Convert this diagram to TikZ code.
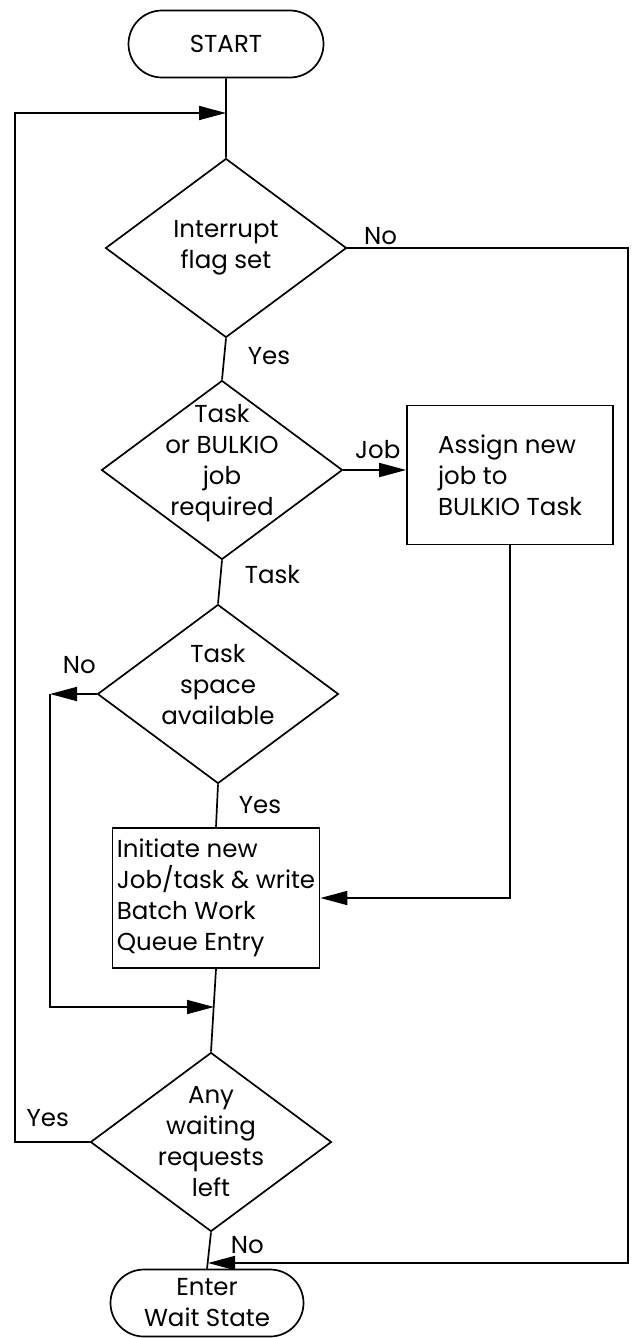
\documentclass[tikz,border=0pt]{standalone}
\usepackage{fontspec}
\setmainfont{Poppins}
\usetikzlibrary{shapes.geometric,shapes.misc,arrows.meta}

\tikzset{
	terminal/.style={rounded rectangle, draw, align=center, minimum width=195pt, minimum height=67pt, inner sep=0pt},
	decision/.style={diamond, draw, minimum width=241pt, minimum height=179pt, inner sep=0pt},
	process/.style={rectangle, draw, align=left, minimum width=206pt, minimum height=139pt, inner sep=0pt},
	dtext/.style={align=center, inner sep=0pt},
	lbl/.style={inner sep=0pt},
}

\begin{document}
\begin{tikzpicture}[x=1pt, y=-1pt, line width=1.7pt, >={Triangle[length=27pt,width=14pt]},
		every node/.append style={font=\fontsize{24.5}{31}\selectfont}]
		\useasboundingbox (0,0) rectangle (634,1338);

		\node[terminal] (start) at (226, 44) {START};
		\node[decision] (d1) at (226, 248) {};
		\node[decision] (d2) at (222, 470) {};
		\node[decision] (d3) at (218, 694) {};
		\node[decision] (d4) at (211, 1142) {};
		\node[process] (assign) at (510, 475) {Assign new\\job to\\BULKIO Task};
		\node[process, minimum width=207pt, minimum height=140pt] (init) at (216, 898) {Initiate new\\Job/task \& write\\Batch Work\\Queue Entry};
		\node[terminal, minimum width=193pt] (enter) at (207, 1303) {Enter\\Wait State};

		% text of the decisions
		\node[dtext] (d1t) at (d1) {Interrupt\\flag set};
		\node[dtext, yshift=7pt] (d2t) at (d2) {Task\\or BULKIO\\job\\required};
		\node[dtext, yshift=9pt] (d3t) at (d3) {Task\\space\\available};
		\node[dtext] (d4t) at (d4) {Any\\waiting\\requests\\left};

		% corners of the loops
		\coordinate (lin) at (226, 113);
		\coordinate (lyes) at (15, 1142);
		\coordinate (rno) at (628, 248);
		\coordinate (bin) at (208, 1263);
		\coordinate (lno) at (50, 694);
		\coordinate (jn) at (214, 1007);

		\draw (start) -- (d1);
		\draw [->] (d1.east) node[lbl, anchor=base west, xshift=16pt, yshift=4pt] (no1) {No} -- (rno) |- (bin);
		\draw (d1.south) node[lbl, anchor=base west, xshift=21pt, yshift=-26pt] (yes1) {Yes} -- (d2.north);
		\draw [->] (d2.east) node[lbl, anchor=base west, xshift=11pt, yshift=12pt] (job) {Job} -- (d2.east -| assign.west);
		\draw (d2.south) node[lbl, anchor=base west, xshift=22pt, yshift=-23pt] (task) {Task} -- (d3.north);
		\draw [->] (assign.south) |- (init.east);
		\draw [->] (d3.west) node[lbl, anchor=base east, yshift=21pt] (no3) {No} -- (lno);
		\draw [->] (lno) |- (jn);
		\draw (d3.south) node[lbl, anchor=base west, xshift=20pt, yshift=-29pt] (yes3) {Yes} -- (init.north);
		\draw (init.south) -- (d4.north);
		\draw [->] (d4.west) node[lbl, anchor=base east, xshift=-20pt, yshift=16pt] (yes4) {Yes} -- (lyes) |- (lin);
		\draw (d4.south) node[lbl, anchor=base west, xshift=19pt, yshift=-21pt] (no4) {No} -- (enter.north);
	\end{tikzpicture}
\end{document}
